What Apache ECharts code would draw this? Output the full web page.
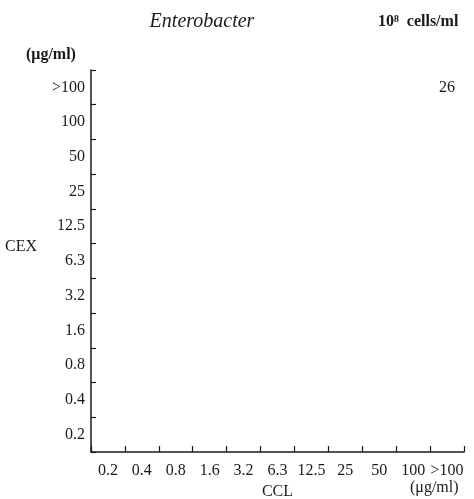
<!DOCTYPE html>
<html>
<head>
<meta charset="utf-8">
<script src="https://cdn.jsdelivr.net/npm/echarts@6/dist/echarts.min.js"></script>
<style>
  html, body { margin: 0; padding: 0; background: #fff; }
  #main { width: 474px; height: 499px; }
</style>
</head>
<body>
<div id="main"></div>
<script>
// CCL 濃度 (x)
var cclLevels = ['0.2', '0.4', '0.8', '1.6', '3.2', '6.3', '12.5', '25', '50', '100', '>100'];
// CEX 濃度 (y)
var cexLevels = ['0.2', '0.4', '0.8', '1.6', '3.2', '6.3', '12.5', '25', '50', '100', '>100'];
// 株数: [CCL, CEX, count]
var counts = [['>100', '>100', 26]];

var serif = '"Liberation Serif", "DejaVu Serif", serif';
var ink = '#1a1a1a';

var myChart = echarts.init(document.getElementById('main'));

var option = {
    backgroundColor: '#fff',
    animation: false,
    title: {
        text: 'Enterobacter',
        left: 197,
        top: 7,
        textAlign: 'center',
        textStyle: { fontFamily: serif, fontStyle: 'italic', fontWeight: 'normal', fontSize: 20, color: ink }
    },
    grid: { left: 91, top: 70, right: 10, bottom: 47, outerBoundsMode: 'none', containLabel: false },
    xAxis: {
        type: 'category',
        data: cclLevels,
        boundaryGap: true,
        name: 'CCL',
        nameLocation: 'middle',
        nameGap: 30,
        nameTextStyle: { fontFamily: serif, fontSize: 16, color: ink },
        axisLine: { lineStyle: { color: ink, width: 1.5 } },
        axisTick: { show: true, inside: true, interval: 0, length: 6, lineStyle: { color: ink, width: 1.2 } },
        axisLabel: { interval: 0, fontFamily: serif, fontSize: 16, color: ink, margin: 11 },
        splitLine: { show: false }
    },
    yAxis: {
        type: 'category',
        data: cexLevels,
        boundaryGap: true,
        axisLine: { lineStyle: { color: ink, width: 1.5 } },
        axisTick: { show: true, inside: true, interval: 0, length: 5, lineStyle: { color: ink, width: 1.2 } },
        axisLabel: { interval: 0, fontFamily: serif, fontSize: 16, color: ink, margin: 6 },
        splitLine: { show: false }
    },
    graphic: [
        { type: 'text', left: 378, top: 14,
          style: { text: '10\u2078  cells/ml', font: 'bold 16px ' + serif, fill: ink } },
        { type: 'text', left: 26, top: 47,
          style: { text: '(\u03bcg/ml)', font: 'bold 16px ' + serif, fill: ink } },
        { type: 'text', left: 5, top: 239,
          style: { text: 'CEX', font: '16px ' + serif, fill: ink } },
        { type: 'text', left: 410, top: 480,
          style: { text: '(\u03bcg/ml)', font: '16px ' + serif, fill: ink } }
    ],
    series: [
        {
            type: 'scatter',
            data: counts,
            symbolSize: 1,
            itemStyle: { color: 'rgba(0,0,0,0)', opacity: 1 },
            label: {
                show: true,
                position: 'inside',
                formatter: function (p) { return p.value[2]; },
                fontFamily: serif,
                fontSize: 16,
                color: ink,
                opacity: 1,
                textBorderWidth: 0
            }
        }
    ]
};

myChart.setOption(option);
</script>
</body>
</html>
